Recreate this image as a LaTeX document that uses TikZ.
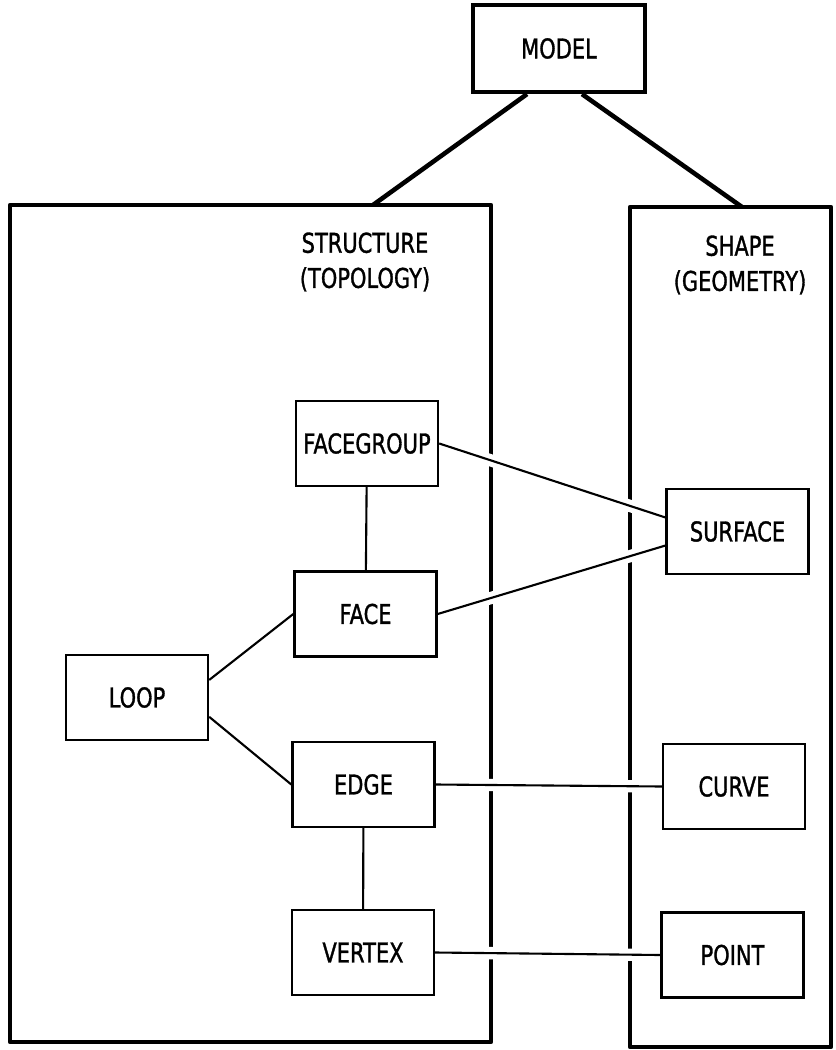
\documentclass[tikz,border=0pt]{standalone}
\usepackage{fontspec}
\setmainfont{DejaVu Sans}[FakeStretch=0.77, FakeBold=1.2]
\usetikzlibrary{backgrounds}

\tikzset{
  every node/.style={font=\fontsize{15.5}{20}\selectfont},
  part/.style={draw, line width=1.4pt, fill=white, inner sep=0pt,
    minimum width=2.84cm, minimum height=1.7cm},
  top/.style={part, line width=2.4pt, minimum width=3.44cm, minimum height=1.74cm},
  frame/.style={line width=2.6pt, line join=round},
  link/.style={line width=1.2pt, preaction={draw=white, line width=7pt}},
}

\begin{document}
\begin{tikzpicture}[x=0.02cm, y=-0.02cm]
\useasboundingbox (0,0) rectangle (835,1050);

\node[top] (model) at (559,48.5) {MODEL};

% structure side
\node[part] (facegroup) at (367,443.5) {FACEGROUP};
\node[part] (face) at (365.5,614) {FACE};
\node[part] (loop) at (137,697.5) {LOOP};
\node[part] (edge) at (363.5,784.5) {EDGE};
\node[part] (vertex) at (363,952.5) {VERTEX};
\node[align=center] (topo) at (365,262) {STRUCTURE\\(TOPOLOGY)};

% shape side
\node[part] (surface) at (737.5,531.5) {SURFACE};
\node[part] (curve) at (734,786.5) {CURVE};
\node[part] (point) at (732.5,955) {POINT};
\node[align=center] (geom) at (740,265) {SHAPE\\(GEOMETRY)};

\coordinate (topoTop) at (373,205);
\coordinate (geomTop) at (742,207);

\begin{pgfonlayer}{background}
\draw[frame] (10,205) rectangle (491,1042);
\draw[frame] (630,207) rectangle (831,1047);

\path[draw,link] (facegroup.east) -- ([yshift=8pt]surface.west);
\path[draw,link] (face.east) -- ([yshift=-8pt]surface.west);
\path[draw,link] (facegroup) -- (face);
\path[draw,link] ([yshift=10pt]loop.east) -- (face.west);
\path[draw,link] ([yshift=-11pt]loop.east) -- (edge.west);
\path[draw,link] (edge.east) -- (curve.west);
\path[draw,link] (edge) -- (vertex);
\path[draw,link] (vertex.east) -- (point.west);
\end{pgfonlayer}

\draw[frame] ([xshift=-0.64cm]model.south) -- (topoTop);
\draw[frame] ([xshift=0.46cm]model.south) -- (geomTop);

\end{tikzpicture}
\end{document}
